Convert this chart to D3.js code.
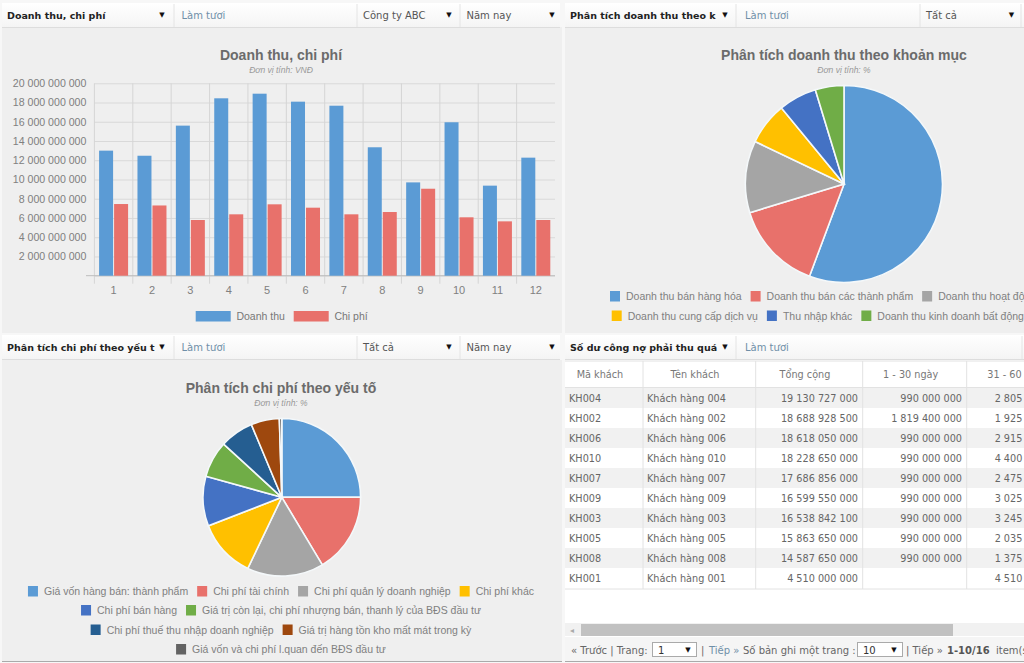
<!DOCTYPE html>
<html>
<head>
<meta charset="utf-8">
<script src="https://cdn.jsdelivr.net/npm/d3@7"></script>
<style>
html, body { margin: 0; padding: 0; background: #fff; overflow: hidden; }
svg { display: block; }
.tool { font-family: "DejaVu Sans", sans-serif; font-size: 10px; fill: #555; }
.cell { font-size: 9.7px; fill: #666; }
.chart { font-family: "Liberation Sans", Arial, sans-serif; }
</style>
</head>
<body>
<script>
// bar chart data
const months = ["1","2","3","4","5","6","7","8","9","10","11","12"];
const seriesNames = ["Doanh thu", "Chi phí"];
const revenue = [13.0e9,12.47e9,15.6e9,18.44e9,18.92e9,18.09e9,17.67e9,13.35e9,9.7e9,15.95e9,9.36e9,12.27e9];
const cost = [7.45e9,7.3e9,5.79e9,6.38e9,7.42e9,7.07e9,6.38e9,6.62e9,9.04e9,6.07e9,5.65e9,5.79e9];
const yTicks = [0,2e9,4e9,6e9,8e9,10e9,12e9,14e9,16e9,18e9,20e9];

// pie 1
const revLabels = ["Doanh thu bán hàng hóa","Doanh thu bán các thành phẩm","Doanh thu hoạt động tài chính","Doanh thu cung cấp dịch vụ","Thu nhập khác","Doanh thu kinh doanh bất động sản"];
const revShares = [55.7,14.6,11.8,6.95,6.25,4.7];

// pie 2
const costLabels = ["Giá vốn hàng bán: thành phẩm","Chi phí tài chính","Chi phí quản lý doanh nghiệp","Chi phí khác","Chi phí bán hàng","Giá trị còn lại, chi phí nhượng bán, thanh lý của BĐS đầu tư","Chi phí thuế thu nhập doanh nghiệp","Giá trị hàng tồn kho mất mát trong kỳ","Giá vốn và chi phí l.quan đến BĐS đầu tư"];
const costShares = [25,16.4,15.7,12,10.2,7.5,6.9,5.8,0.5];

// table
const tableHeaders = ["Mã khách","Tên khách","Tổng cộng","1 - 30 ngày","31 - 60 ngày"];
const custCodes = ["KH004","KH002","KH006","KH010","KH007","KH009","KH003","KH005","KH008","KH001"];
const custNames = ["Khách hàng 004","Khách hàng 002","Khách hàng 006","Khách hàng 010","Khách hàng 007","Khách hàng 009","Khách hàng 003","Khách hàng 005","Khách hàng 008","Khách hàng 001"];
const totals = [19130727000,18688928500,18618050000,18228650000,17686856000,16599550000,16538842100,15863650000,14587650000,4510000000];
const days1to30 = [990000000,1819400000,990000000,990000000,990000000,990000000,990000000,990000000,990000000,null];
const days31to60 = [2805000000,1925000000,2915000000,4400000000,2475000000,3025000000,3245000000,2035000000,1375000000,4510000000];

const colors = ["#5b9bd5","#e8716b","#a5a5a5","#ffc000","#4472c4","#70ad47","#255e91","#9e480e","#636363"];
const fmt = d3.formatLocale({decimal: ",", thousands: " ", grouping: [3], currency: ["",""]}).format(",d");

var svg = d3.select("body").append("svg").attr("width", 1024).attr("height", 663);

var defs = svg.append("defs");
var grad = defs.append("linearGradient").attr("id", "toolbg").attr("x1", 0).attr("x2", 0).attr("y1", 0).attr("y2", 1);
grad.append("stop").attr("offset", 0).attr("stop-color", "#ffffff");
grad.append("stop").attr("offset", 1).attr("stop-color", "#f4f4f4");

// panels
function panel(x, y, w, h, fill) {
  svg.append("rect").attr("x", x).attr("y", y).attr("width", w).attr("height", h).attr("fill", fill);
}
panel(0, 0, 1024, 663, "#f7f7f7");
panel(2, 27, 560, 306, "#efefef");
panel(565, 27, 459, 306, "#efefef");
panel(2, 360, 560, 301, "#efefef");
panel(565, 360, 459, 290, "#ffffff");
svg.append("line").attr("x1", 2).attr("x2", 562).attr("y1", 661.5).attr("y2", 661.5).attr("stroke", "#aaa");
svg.append("line").attr("x1", 565).attr("x2", 1024).attr("y1", 661.5).attr("y2", 661.5).attr("stroke", "#aaa");

function arrow(x, y) {
  svg.append("text").attr("x", x).attr("y", y).attr("text-anchor", "middle")
    .style("font-family", "DejaVu Sans").style("font-size", "7px").attr("fill", "#111").text("▼");
}

function toolbar(x, y, w, title, arrowX, seps, items) {
  svg.append("rect").attr("x", x).attr("y", y).attr("width", w).attr("height", 25).attr("fill", "url(#toolbg)");
  svg.append("line").attr("x1", x).attr("x2", x + w).attr("y1", y + 24.5).attr("y2", y + 24.5).attr("stroke", "#ddd");
  seps.forEach(function(s) {
    svg.append("line").attr("x1", s).attr("x2", s).attr("y1", y + 1).attr("y2", y + 24).attr("stroke", "#e4e4e4");
  });
  svg.append("text").attr("class", "tool").attr("x", x + 5).attr("y", y + 15.5)
    .style("font-weight", "bold").style("font-size", "9.5px").style("fill", "#222").text(title);
  arrow(arrowX, y + 14);
  items.forEach(function(it) {
    svg.append("text").attr("class", "tool").attr("x", it.x).attr("y", y + 15.5)
      .style("fill", it.link ? "#6f8fa8" : "#555").text(it.label);
    if (it.arrow) arrow(it.arrow, y + 14);
  });
}
toolbar(2, 3, 558, "Doanh thu, chi phí", 162, [174, 357, 460], [
  {x: 181.5, label: "Làm tươi", link: true},
  {x: 363, label: "Công ty ABC", arrow: 449},
  {x: 466.5, label: "Năm nay", arrow: 552}]);
toolbar(565, 3, 459, "Phân tích doanh thu theo k", 725, [736, 920, 1021], [
  {x: 745, label: "Làm tươi", link: true},
  {x: 926, label: "Tất cả", arrow: 1011.5}]);
toolbar(2, 335, 558, "Phân tích chi phí theo yếu t", 162, [174, 357, 460], [
  {x: 181.5, label: "Làm tươi", link: true},
  {x: 363, label: "Tất cả", arrow: 449},
  {x: 466.5, label: "Năm nay", arrow: 552}]);
toolbar(565, 335, 459, "Số dư công nợ phải thu quá", 725, [736, 1022], [
  {x: 745, label: "Làm tươi", link: true}]);

function titles(cx, y, title, sub) {
  svg.append("text").attr("class", "chart").attr("x", cx).attr("y", y).attr("text-anchor", "middle")
    .style("font-size", "14px").style("font-weight", "bold").attr("fill", "#6b6b6b").text(title);
  svg.append("text").attr("class", "chart").attr("x", cx).attr("y", y + 13).attr("text-anchor", "middle")
    .style("font-size", "8.5px").style("font-style", "italic").attr("fill", "#999").text(sub);
}
titles(281, 60, "Doanh thu, chi phí", "Đơn vị tính: VNĐ");
titles(844, 60, "Phân tích doanh thu theo khoản mục", "Đơn vị tính: %");
titles(281, 393, "Phân tích chi phí theo yếu tố", "Đơn vị tính: %");

// bar chart
var plot = {left: 94.4, right: 555, top: 83.3, bottom: 275.7};
var x = d3.scaleBand().domain(months).range([plot.left, plot.right]);
var xInner = d3.scaleBand().domain(seriesNames).range([0, x.bandwidth()]).paddingInner(0.067).paddingOuter(0.313);
var y = d3.scaleLinear().domain([0, 20e9]).range([plot.bottom, plot.top]);

var yAxis = svg.append("g").attr("class", "chart")
  .attr("transform", "translate(" + plot.left + ",0)")
  .call(d3.axisLeft(y).tickValues(yTicks).tickSize(-(plot.right - plot.left)).tickPadding(8)
    .tickFormat(function(d) { return d === 0 ? "" : fmt(d); }));
yAxis.select(".domain").remove();
yAxis.selectAll(".tick line").attr("stroke", "#d9d9d9");
yAxis.selectAll("text").attr("fill", "#808080").style("font-size", "10.6px");

var xAxis = svg.append("g").attr("class", "chart")
  .attr("transform", "translate(0," + plot.bottom + ")")
  .call(d3.axisBottom(x).tickSize(0).tickPadding(11));
xAxis.select(".domain").remove();
xAxis.selectAll("text").attr("fill", "#808080").style("font-size", "11px");

// vertical grid at the band edges, running down through the axis
svg.selectAll(".vgrid").data(months).enter().append("line")
  .attr("x1", function(d) { return x(d); })
  .attr("x2", function(d) { return x(d); })
  .attr("y1", plot.top).attr("y2", plot.bottom + 8)
  .attr("stroke", "#d5d5d5");
svg.append("line").attr("x1", 86).attr("x2", plot.right).attr("y1", plot.bottom).attr("y2", plot.bottom).attr("stroke", "#bdbdbd");

[revenue, cost].forEach(function(vals, si) {
  svg.selectAll(".bar" + si).data(vals).enter().append("rect")
    .attr("x", function(d, i) { return x(months[i]) + xInner(seriesNames[si]); })
    .attr("y", function(d) { return y(d); })
    .attr("width", xInner.bandwidth())
    .attr("height", function(d) { return plot.bottom - y(d); })
    .attr("fill", colors[si]);
});

// bar legend
var barLegend = [{sx: 195.7, tx: 236.4}, {sx: 293.7, tx: 334.4}];
seriesNames.forEach(function(name, i) {
  svg.append("rect").attr("x", barLegend[i].sx).attr("y", 311).attr("width", 35).attr("height", 10.5).attr("fill", colors[i]);
  svg.append("text").attr("class", "chart").attr("x", barLegend[i].tx).attr("y", 319.5)
    .style("font-size", "10.5px").attr("fill", "#777").text(name);
});

// pies
function drawPie(cx, cy, r, vals) {
  var pie = d3.pie().sort(null);
  var arc = d3.arc().innerRadius(0).outerRadius(r);
  svg.append("g").attr("transform", "translate(" + cx + "," + cy + ")")
    .selectAll("path").data(pie(vals)).enter().append("path")
    .attr("d", arc)
    .attr("fill", function(d, i) { return colors[i]; })
    .attr("stroke", "#f4f8fa").attr("stroke-width", 1.6);
}
drawPie(844, 184, 98.5, revShares);
drawPie(281.8, 497.3, 78.8, costShares);

// legend rows laid out from measured text widths, clipped by the page edge
function legendRow(labels, offset, rowY, startX, centerX) {
  var g = svg.append("g").attr("class", "chart");
  var cur = 0;
  labels.forEach(function(label, i) {
    g.append("rect").attr("x", cur).attr("y", rowY - 9).attr("width", 10).attr("height", 10.5).attr("fill", colors[offset + i]);
    var t = g.append("text").attr("x", cur + 16).attr("y", rowY).style("font-size", "10.5px").attr("fill", "#808080").text(label);
    cur += 16 + t.node().getComputedTextLength() + 9;
  });
  var left = startX !== null ? startX : centerX - (cur - 9) / 2;
  g.attr("transform", "translate(" + left + ",0)");
}
legendRow(revLabels.slice(0, 3), 0, 300, 610, null);
legendRow(revLabels.slice(3), 3, 319.5, 611.7, null);
legendRow(costLabels.slice(0, 4), 0, 595, null, 281);
legendRow(costLabels.slice(4, 6), 4, 614, null, 281);
legendRow(costLabels.slice(6, 8), 6, 633.5, null, 281);
legendRow(costLabels.slice(8), 8, 653, null, 281);

// table
var tableTop = 388, rowH = 20;
var rowY = d3.scaleBand().domain(custCodes).range([tableTop, tableTop + rowH * custCodes.length]);
svg.selectAll(".rowbg").data(custCodes).enter().append("rect")
  .attr("x", 565).attr("width", 459)
  .attr("y", function(d) { return rowY(d); }).attr("height", rowY.bandwidth())
  .attr("fill", function(d, i) { return i % 2 === 0 ? "#f1f1f1" : "#ffffff"; });

var colEdges = [643, 755.7, 862.7, 966.7];
colEdges.forEach(function(cx) {
  svg.append("line").attr("x1", cx).attr("x2", cx).attr("y1", 361).attr("y2", 589).attr("stroke", "#e2e2e2");
});
[361, 387.5, 589].forEach(function(ly) {
  svg.append("line").attr("x1", 565).attr("x2", 1024).attr("y1", ly).attr("y2", ly).attr("stroke", "#e2e2e2");
});

var headerX = [600, 695, 805, 910.7, 1018];
tableHeaders.forEach(function(h, i) {
  svg.append("text").attr("class", "tool cell").attr("x", headerX[i]).attr("y", 378).attr("text-anchor", "middle")
    .style("fill", "#777").text(h);
});

function tableCol(vals, colX, anchor) {
  svg.selectAll(null).data(vals).enter().append("text").attr("class", "tool cell")
    .attr("x", colX).attr("text-anchor", anchor)
    .attr("y", function(d, i) { return rowY(custCodes[i]) + 14; })
    .text(function(d) { return d === null ? "" : (typeof d === "number" ? fmt(d) : d); });
}
tableCol(custCodes, 569, "start");
tableCol(custNames, 647, "start");
tableCol(totals, 858, "end");
tableCol(days1to30, 962, "end");
tableCol(days31to60, 1065.5, "end");

// scrollbar
panel(565, 623, 459, 13, "#f1f1f1");
panel(581, 624, 372, 12, "#c1c1c1");
svg.append("text").attr("x", 572).attr("y", 633).attr("text-anchor", "middle").style("font-size", "8px").attr("fill", "#aaa").text("◂");

// pager
function pagerText(px, label, color, bold) {
  svg.append("text").attr("class", "tool").attr("x", px).attr("y", 653.5)
    .style("fill", color || "#666").style("font-weight", bold ? "bold" : "normal").text(label);
}
function pagerSelect(px, w, label) {
  svg.append("rect").attr("x", px + 0.5).attr("y", 642.5).attr("width", w).attr("height", 14)
    .attr("fill", "#fff").attr("stroke", "#aaa");
  pagerText(px + 6, label, "#333");
  arrow(px + w - 8, 652);
}
panel(565, 637, 459, 24, "#f5f5f5");
pagerText(571, "« Trước | Trang:");
pagerSelect(652, 44, "1");
pagerText(701, "|");
pagerText(709, "Tiếp »", "#6f8fa8");
pagerText(743, "Số bản ghi một trang :");
pagerSelect(857, 45, "10");
pagerText(906, "| Tiếp »");
pagerText(947, "1-10/16", "#555", true);
pagerText(996, "item(s)");
</script>
</body>
</html>
